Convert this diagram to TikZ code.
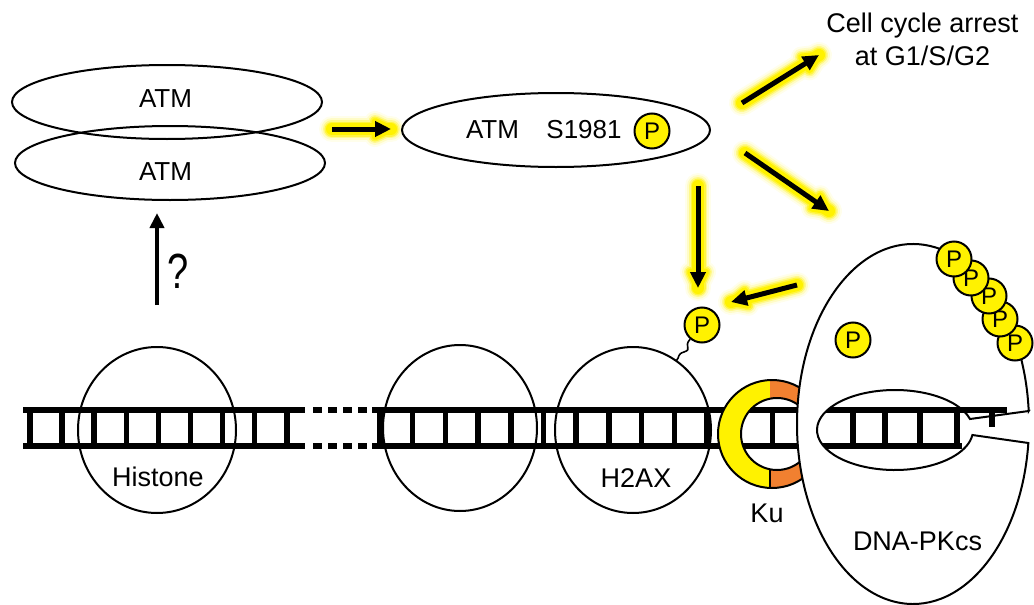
\documentclass[tikz,border=0pt]{standalone}
\usepackage{fontspec}
\setmainfont{Liberation Sans}
\usetikzlibrary{arrows.meta,calc,shapes.geometric}

\definecolor{pyellow}{RGB}{255,242,0}
\definecolor{kuorange}{RGB}{241,128,48}

\tikzset{
  outline/.style={draw=black, line width=2pt},
  nucleo/.style={ellipse, draw=black, line width=2pt, minimum height=166pt, inner sep=0pt, outer sep=0pt},
  atmell/.style={ellipse, draw=black, line width=2pt, minimum width=310pt, minimum height=74pt, inner sep=0pt, outer sep=0pt},
  pcirc/.style={circle, draw=black, line width=2pt, fill=pyellow, minimum size=35pt, inner sep=0pt,
                font=\fontsize{24}{24}\selectfont},
  lbl/.style={inner sep=0pt, anchor=base, font=\fontsize{27}{30}\selectfont},
  atmlbl/.style={inner sep=0pt, anchor=base, font=\fontsize{26}{30}\selectfont},
  rail/.style={line width=6.5pt},
  rung/.style={line width=5.5pt},
  arr/.style={line width=5pt, -{Triangle[length=16pt,width=15pt]}},
  qarr/.style={line width=4.5pt, -{Triangle[length=15pt,width=14pt]}},
}

% soft yellow halo behind an arrow from #1 to its tip #2
\newcommand\glowarrow[2]{%
  \foreach \sw/\tw/\gc in {26pt/21pt/yellow!8, 22pt/17pt/yellow!22, 18pt/13pt/yellow!45,
                           15pt/10pt/yellow!75, 12pt/7pt/pyellow} {
    \draw[color=\gc, line width=\sw, line cap=round] (#1) -- (#2);
    \filldraw[color=\gc, line width=\tw, line join=round]
      (#2) -- ($(#2)!16pt!(#1)!7.5pt!90:(#2)$) -- ($(#2)!16pt!(#1)!7.5pt!-90:(#2)$) -- cycle;
  }%
}

\begin{document}
\begin{tikzpicture}[x=1pt,y=1pt]
\useasboundingbox (0,0) rectangle (1034,-605);

% arrow end points
\coordinate (a1s) at (332,-129); \coordinate (a1e) at (391,-129);
\coordinate (a2s) at (742,-103); \coordinate (a2e) at (819,-55);
\coordinate (a3s) at (745,-153); \coordinate (a3e) at (829,-211);
\coordinate (a4s) at (698,-186); \coordinate (a4e) at (698,-288);
\coordinate (a5s) at (797,-285); \coordinate (a5e) at (731,-302);
\coordinate (qs) at (157,-305);  \coordinate (qe) at (157,-213);

% halos
\foreach \s/\e in {a1s/a1e,a2s/a2e,a3s/a3e,a4s/a4e,a5s/a5e} {\glowarrow{\s}{\e}}

% DNA ladder, left part
\draw[rail] (23,-410) -- (305,-410);
\draw[rail] (23,-446) -- (305,-446);
\foreach \k in {0,...,8} \draw[rung] ({30+32.1*\k},-410) -- ({30+32.1*\k},-446);
% gap
\draw[rail, dash pattern=on 9pt off 6pt] (313,-410) -- (368,-410);
\draw[rail, dash pattern=on 9pt off 6pt] (313,-446) -- (368,-446);
% DNA ladder, right part
\draw[rail] (372,-410) -- (805,-410);
\draw[rail] (372,-446) -- (805,-446);
\foreach \k in {0,...,12} \draw[rung] ({380+32.7*\k},-410) -- ({380+32.7*\k},-446);

% nucleosomes
\node[nucleo, minimum width=158pt] (hist) at (157,-430) {};
\node[nucleo, minimum width=154pt] (nuc2) at (460,-428) {};
\node[nucleo, minimum width=156pt] (h2ax) at (633,-430) {};
\node[lbl] (thist) at (158,-486) {Histone};
\node[lbl] (th2ax) at (636,-487) {H2AX};

% phosphate on H2AX
\node[pcirc] (ph) at (702,-325) {P};
\draw[line width=1.6pt] (ph.230) .. controls (683,-347) and (693,-349) .. (684,-352)
  .. controls (677,-354) and (680,-357) .. (h2ax.58);

% Ku ring
\begin{scope}
  \clip (700,-370) rectangle (770,-500);
  \fill[pyellow, even odd rule] (772,-434) circle[radius=54] (777,-434) circle[radius=36];
\end{scope}
\begin{scope}
  \clip (770,-370) rectangle (840,-500);
  \fill[kuorange, even odd rule] (772,-434) circle[radius=54] (777,-434) circle[radius=36];
\end{scope}
\draw[outline] (772,-434) circle[radius=54];
\draw[outline] (777,-434) circle[radius=36];
\draw[outline] (770,-469.3) -- (770,-488);
\node[lbl] (tku) at (767,-522) {Ku};

% DNA-PKcs
\fill[white] (913,-424) ellipse[x radius=116, y radius=180];
\begin{scope}
  \clip (895,-390) arc[start angle=90, end angle=270, x radius=78, y radius=40]
        -- (1034,-470) -- (1034,-390) -- cycle;
  \draw[rail] (815,-410) -- (1007,-410);
  \draw[rail] (815,-446) -- (962,-446);
  \foreach \x in {853,885,920,957} \draw[rung] (\x,-410) -- (\x,-446);
  \draw[rung] (992,-410) -- (992,-427);
\end{scope}
\draw[outline] (1028.7,-411) -- (970,-419)
  arc[start angle=15.96, end angle=352.82, x radius=78, y radius=40]
  -- (1028.35,-443)
  arc[start angle=-6.06, end angle=-355.86, x radius=116, y radius=180] -- cycle;
\node[lbl] (tdna) at (917.5,-550) {DNA-PKcs};
\node[pcirc] (pk) at (853,-340) {P};
\node[pcirc] (pc5) at (1015,-343) {P};
\node[pcirc] (pc4) at (1000,-319) {P};
\node[pcirc] (pc3) at (989,-296) {P};
\node[pcirc] (pc2) at (971,-278) {P};
\node[pcirc] (pc1) at (954,-259) {P};

% ATM dimer and activated ATM
\node[atmell] (atm1) at (167,-102) {};
\node[atmell] (atm2) at (170,-163) {};
\node[atmlbl] (tatm1) at (165.5,-107) {ATM};
\node[atmlbl] (tatm2) at (165.5,-180) {ATM};
\node[atmell, minimum width=308pt] (atmp) at (556,-130) {};
\node[atmlbl] (tatm3) at (492.5,-138) {ATM};
\node[atmlbl] (ts) at (584,-138) {S1981};
\node[pcirc] (pa) at (652,-131) {P};

% outcome text
\node[lbl] (tcell) at (922.5,-32) {Cell cycle arrest};
\node[lbl] (tphase) at (922.5,-65) {at G1/S/G2};

% question arrow
\draw[qarr] (qs) -- (qe);
\node[inner sep=0pt, anchor=base] (tq) at (178.5,-288)
  {\fontsize{38}{38}\selectfont\scalebox{1}[1.3]{?}};

% arrows
\foreach \s/\e in {a1s/a1e,a2s/a2e,a3s/a3e,a4s/a4e,a5s/a5e} \draw[arr] (\s) -- (\e);
\end{tikzpicture}
\end{document}
